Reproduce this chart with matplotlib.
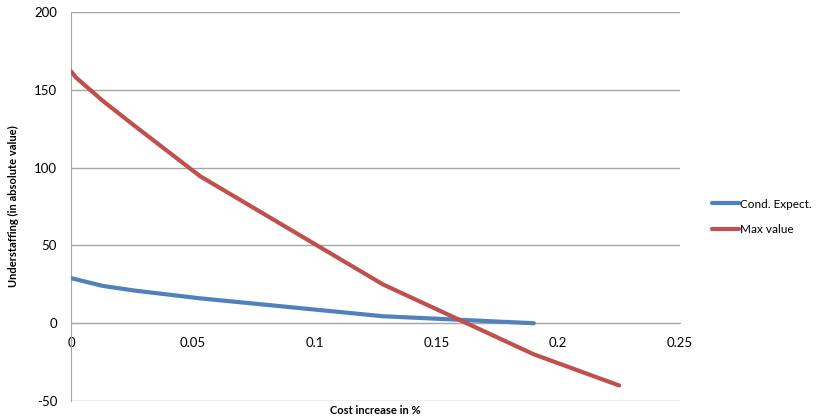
import matplotlib.pyplot as plt

plt.rcParams['font.family'] = ['Lato', 'DejaVu Sans']
plt.rcParams['axes.unicode_minus'] = False

# data
cost_cond = [0.0, 0.013, 0.026, 0.053, 0.128, 0.19]
cond_expect = [29, 24, 21, 16, 4.5, 0]

cost_max = [0.0, 0.002, 0.013, 0.026, 0.053, 0.128, 0.19, 0.225]
max_value = [162, 158, 143, 127, 94.5, 25, -20, -40]

x_ticks = [0, 0.05, 0.1, 0.15, 0.2, 0.25]
x_tick_labels = ['0', '0.05', '0.1', '0.15', '0.2', '0.25']
y_ticks = [-50, 0, 50, 100, 150, 200]

fig = plt.figure(figsize=(8.18, 4.16), dpi=100)
ax = fig.add_axes([0.0868, 0.036, 0.7445, 0.935])

ax.plot(cost_cond, cond_expect, color='#4F81BD', lw=3, solid_capstyle='round',
        label='Cond. Expect.', zorder=3)
ax.plot(cost_max, max_value, color='#C0504D', lw=3, solid_capstyle='round',
        label='Max value', zorder=3)

ax.set_xlim(0, 0.25)
ax.set_ylim(-50, 200)
ax.set_xticks(x_ticks)
ax.set_xticklabels(x_tick_labels)
ax.set_yticks(y_ticks)

ax.grid(axis='y', color='#a6a6a6', lw=1)
ax.set_axisbelow(True)
for s in ['top', 'right']:
    ax.spines[s].set_visible(False)
ax.spines['bottom'].set_position(('data', 0))
ax.spines['bottom'].set_color('#a6a6a6')
ax.spines['left'].set_color('#a6a6a6')
ax.tick_params(axis='both', length=0, labelsize=9.5, colors='#000000')
ax.tick_params(axis='x', pad=10)
ax.tick_params(axis='y', pad=10)

ax.set_xlabel('Cost increase in %', fontsize=8, fontweight='bold', va='center')
ax.xaxis.set_label_coords(0.5, -0.024)
ax.set_ylabel('Understaffing (in absolute value)', fontsize=8, fontweight='bold')
ax.yaxis.set_label_coords(-0.085, 0.5)

ax.legend(loc='center left', bbox_to_anchor=(1.035, 0.474), frameon=False,
          fontsize=8.5, handlelength=2.3, handletextpad=0.1, labelspacing=1.2)

fig.savefig('out.png', dpi=100)
